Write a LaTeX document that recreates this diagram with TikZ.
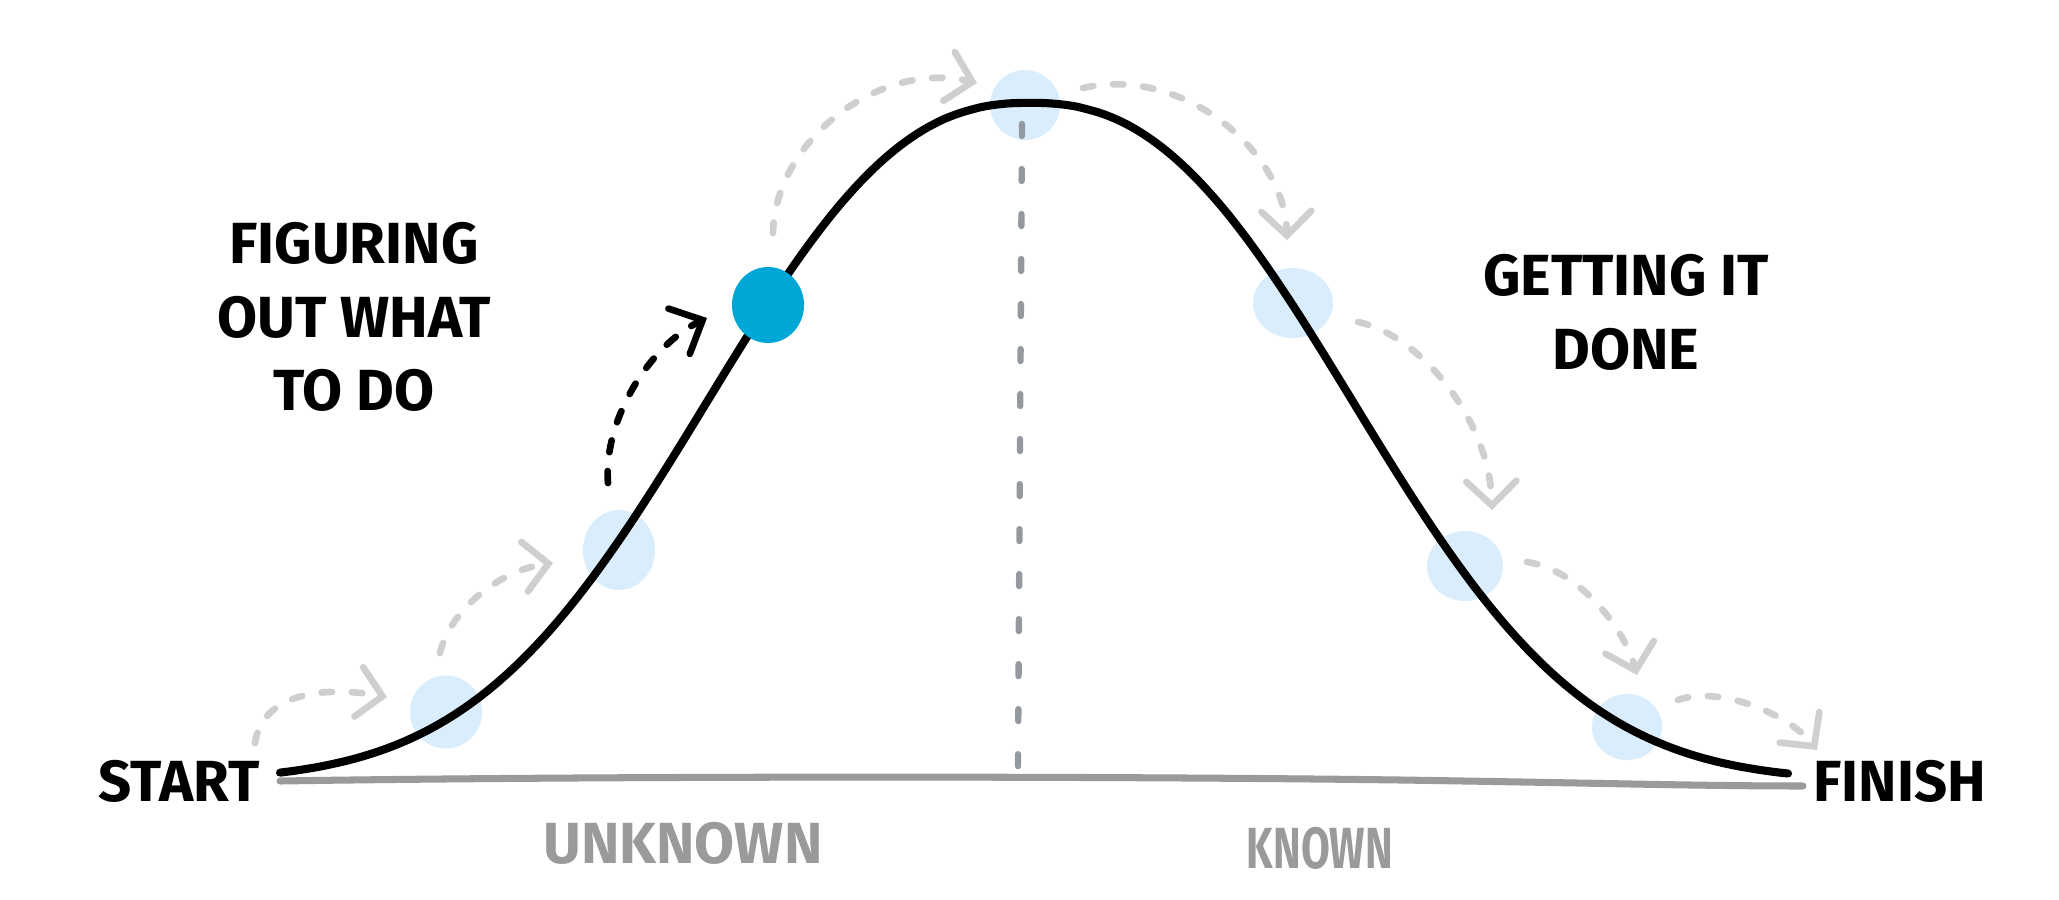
\documentclass[tikz,border=0pt]{standalone}
\usepackage{fontspec}
\setmainfont{Fira Sans}
\usetikzlibrary{arrows.meta,shapes.geometric}
\definecolor{blobblue}{HTML}{DAEDFC}
\definecolor{dotblue}{HTML}{00A6D6}
\definecolor{arrowgray}{HTML}{CFCFCF}
\definecolor{basegray}{HTML}{9A9A9A}
\definecolor{midgray}{HTML}{93999E}
\begin{document}
\begin{tikzpicture}[x=0.01cm,y=-0.01cm,
  blob/.style={ellipse, fill=blobblue, inner sep=0pt},
  bigdot/.style={ellipse, fill=dotblue, inner sep=0pt},
  curveline/.style={line width=2.3pt, line cap=round, line join=round},
  baseline/.style={draw=basegray, line width=2pt, line cap=round},
  midline/.style={draw=midgray, line width=1.8pt, line cap=round, dash pattern=on 3.4pt off 9.4pt},
  hop/.style={draw=arrowgray, line width=1.9pt, line cap=round, dash pattern=on 3pt off 5.6pt,
    -{Straight Barb[length=2.4mm,width=5mm,line cap=round]}},
  blackhop/.style={draw=black, line width=1.9pt, line cap=round, dash pattern=on 3.4pt off 5.4pt,
    -{Straight Barb[length=2.6mm,width=5mm,line cap=round]}},
  hand/.style={font=\bfseries\fontsize{16.5}{21}\selectfont, inner sep=0pt, align=center},
  faint/.style={hand, text=basegray}
]
\useasboundingbox (0,0) rectangle (2059,900);

% blobs
\node[blob, minimum width=0.72cm, minimum height=0.73cm] (b1) at (446,712) {};
\node[blob, minimum width=0.72cm, minimum height=0.80cm] (b2) at (619,550) {};
\node[blob, minimum width=0.70cm, minimum height=0.70cm] (b3) at (1025,105) {};
\node[blob, minimum width=0.80cm, minimum height=0.70cm] (b4) at (1293,303) {};
\node[blob, minimum width=0.76cm, minimum height=0.70cm] (b5) at (1465,566) {};
\node[blob, minimum width=0.70cm, minimum height=0.66cm] (b6) at (1627,727) {};

% endpoints
\coordinate (cs) at (280,781);
\coordinate (cf) at (1788,781);
\coordinate (be) at (1803,786);
\coordinate (vtop) at (1022,124);
\coordinate (vbot) at (1018,768);

% baseline
\draw[baseline] (cs) .. controls (600,776) and (1100,776) .. (1400,780) .. controls (1600,783) and (1700,786) .. (be);

% vertical dashed divider
\draw[midline] (vtop) -- (vbot);

% bell curve
\draw[curveline] plot[domain=280:1788, samples=160, smooth]
  (\x, {781-678*exp(-pow(abs(\x-1030)/405+0.0001,2.4))});

% current position dot
\node[bigdot, minimum width=0.72cm, minimum height=0.76cm] (dot) at (768,305) {};

% arrow end points
\coordinate (a1s) at (255,743);  \coordinate (a1e) at (387,697);
\coordinate (a2s) at (440,653);  \coordinate (a2e) at (553,563);
\coordinate (a3s) at (773,233);  \coordinate (a3e) at (977,83);
\coordinate (a4s) at (1083,88);  \coordinate (a4e) at (1287,240);
\coordinate (a5s) at (1358,322); \coordinate (a5e) at (1492,510);
\coordinate (a6s) at (1527,562); \coordinate (a6e) at (1637,675);
\coordinate (a7s) at (1678,700); \coordinate (a7e) at (1817,750);
\coordinate (a0s) at (608,483);  \coordinate (a0e) at (707,318);

% gray hop arrows
\draw[hop] (a1s) .. controls (262,695) and (320,685) .. (a1e);
\draw[hop] (a2s) .. controls (450,610) and (500,570) .. (a2e);
\draw[hop] (a3s) .. controls (775,140) and (880,60) .. (a3e);
\draw[hop] (a4s) .. controls (1180,65) and (1285,150) .. (a4e);
\draw[hop] (a5s) .. controls (1420,335) and (1490,420) .. (a5e);
\draw[hop] (a6s) .. controls (1580,570) and (1625,630) .. (a6e);
\draw[hop] (a7s) .. controls (1720,685) and (1790,715) .. (a7e);

% black arrow
\draw[blackhop] (a0s) .. controls (603,420) and (650,345) .. (a0e);

% labels
\node[hand] (start) at (179,781) {START};
\node[hand] (finish) at (1900,781) {FINISH};
\node[hand] (figure) at (354,317) {FIGURING\\OUT WHAT\\TO DO};
\node[hand] (done) at (1626,312) {GETTING IT\\DONE};
\node[faint] (unknown) at (683,843) {UNKNOWN};
\node[faint] (known) at (1320,848) {\scalebox{0.72}[1]{KNOWN}};
\end{tikzpicture}
\end{document}
